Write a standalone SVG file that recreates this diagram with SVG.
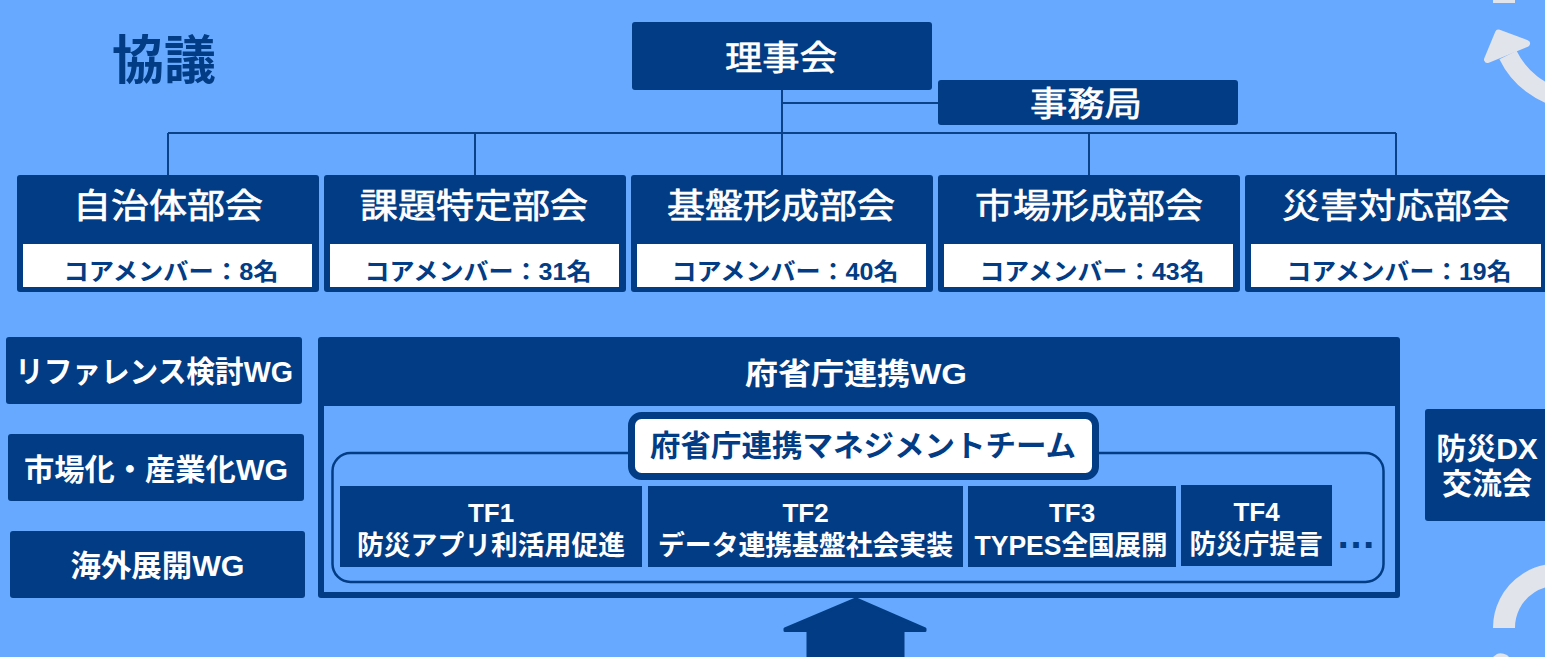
<svg xmlns="http://www.w3.org/2000/svg" width="1545" height="657" viewBox="0 0 1545 657">
<style>
.t{font-family:"Liberation Sans","Noto Sans CJK JP",sans-serif;}
.w{fill:#ffffff;}
.n{fill:#023C84;}
.b{font-weight:bold;}
.m{stroke:#ffffff;stroke-width:0.7;}
.dk{fill:#023C84;}
.conn{stroke:#0B4189;stroke-width:2;fill:none;}
.deco{fill:#E2E4EB;}
</style>
<rect x="0" y="0" width="1545" height="657" fill="#67A9FF"/>

<!-- decorative cycle arrows at right edge -->
<g id="deco">
<rect class="deco" x="1493" y="0" width="22" height="3"/>
<polygon class="deco" points="1498.5,33 1526.5,43.5 1487.5,59.5" stroke="#E2E4EB" stroke-width="7" stroke-linejoin="round"/>
<path d="M1508 55 A80 80 0 0 0 1566 99" stroke="#E2E4EB" stroke-width="19" fill="none"/>
<path d="M1504 628 A53 53 0 0 1 1580 580" stroke="#E2E4EB" stroke-width="22" fill="none"/>
<path class="deco" d="M1493 657 L1497 654 Q1501 652 1507 655 L1509 657 Z"/>
</g>

<text class="t n b" x="164" y="79" font-size="52" text-anchor="middle">協議</text>

<g id="connectors">
<path class="conn" d="M782 90 V175 M782 103 H938 M168 133 H1396 M168 133 V175 M475 133 V175 M1089 133 V175 M1396 133 V175"/>
</g>

<g id="rijikai">
<rect class="dk" x="632" y="22" width="300" height="68" rx="3"/>
<text class="t w m" x="781" y="70" font-size="34" text-anchor="middle" textLength="112" lengthAdjust="spacingAndGlyphs">理事会</text>
</g>

<g id="jimukyoku">
<rect class="dk" x="938" y="80" width="300" height="45" rx="3"/>
<text class="t w m" x="1086" y="116" font-size="34" text-anchor="middle" textLength="112" lengthAdjust="spacingAndGlyphs">事務局</text>
</g>

<g id="bukai1">
<rect class="dk" x="17" y="175" width="302" height="117" rx="3"/>
<rect fill="#fff" x="23" y="244" width="289" height="43"/>
<text class="t w m" x="168" y="218" font-size="34" text-anchor="middle" textLength="190" lengthAdjust="spacingAndGlyphs">自治体部会</text>
<text class="t n b" x="171" y="280" font-size="24" text-anchor="middle" textLength="215" lengthAdjust="spacingAndGlyphs">コアメンバー：8名</text>
</g>
<g id="bukai2">
<rect class="dk" x="324" y="175" width="302" height="117" rx="3"/>
<rect fill="#fff" x="330" y="244" width="289" height="43"/>
<text class="t w m" x="474" y="218" font-size="34" text-anchor="middle" textLength="228" lengthAdjust="spacingAndGlyphs">課題特定部会</text>
<text class="t n b" x="478" y="280" font-size="24" text-anchor="middle" textLength="227" lengthAdjust="spacingAndGlyphs">コアメンバー：31名</text>
</g>
<g id="bukai3">
<rect class="dk" x="631" y="175" width="302" height="117" rx="3"/>
<rect fill="#fff" x="637" y="244" width="289" height="43"/>
<text class="t w m" x="781" y="218" font-size="34" text-anchor="middle" textLength="228" lengthAdjust="spacingAndGlyphs">基盤形成部会</text>
<text class="t n b" x="785" y="280" font-size="24" text-anchor="middle" textLength="227" lengthAdjust="spacingAndGlyphs">コアメンバー：40名</text>
</g>
<g id="bukai4">
<rect class="dk" x="938" y="175" width="302" height="117" rx="3"/>
<rect fill="#fff" x="944" y="244" width="289" height="43"/>
<text class="t w m" x="1089" y="218" font-size="34" text-anchor="middle" textLength="228" lengthAdjust="spacingAndGlyphs">市場形成部会</text>
<text class="t n b" x="1092" y="280" font-size="24" text-anchor="middle" textLength="225" lengthAdjust="spacingAndGlyphs">コアメンバー：43名</text>
</g>
<g id="bukai5">
<rect class="dk" x="1245" y="175" width="302" height="117" rx="3"/>
<rect fill="#fff" x="1251" y="244" width="290" height="43"/>
<text class="t w m" x="1396" y="218" font-size="34" text-anchor="middle" textLength="228" lengthAdjust="spacingAndGlyphs">災害対応部会</text>
<text class="t n b" x="1399" y="280" font-size="24" text-anchor="middle" textLength="225" lengthAdjust="spacingAndGlyphs">コアメンバー：19名</text>
</g>

<g id="wg-ref">
<rect class="dk" x="6" y="337" width="296" height="67" rx="3"/>
<text class="t w b" x="154" y="382" font-size="30" text-anchor="middle" textLength="278" lengthAdjust="spacingAndGlyphs">リファレンス検討WG</text>
</g>
<g id="wg-market">
<rect class="dk" x="8" y="434" width="296" height="67" rx="3"/>
<text class="t w b" x="156" y="480" font-size="30" text-anchor="middle" textLength="264" lengthAdjust="spacingAndGlyphs">市場化・産業化WG</text>
</g>
<g id="wg-overseas">
<rect class="dk" x="10" y="531" width="295" height="67" rx="3"/>
<text class="t w b" x="157.5" y="576" font-size="30" text-anchor="middle" textLength="174" lengthAdjust="spacingAndGlyphs">海外展開WG</text>
</g>

<g id="wg-gov">
<rect class="dk" x="318" y="337" width="1082" height="261" rx="3"/>
<rect fill="#67A9FF" x="324" y="406" width="1071" height="186"/>
<text class="t w b" x="856" y="384" font-size="30" text-anchor="middle" textLength="222" lengthAdjust="spacingAndGlyphs">府省庁連携WG</text>
<rect x="332.5" y="453" width="1051" height="129" rx="18" fill="none" stroke="#023C84" stroke-width="2.5"/>
</g>

<g id="mgmt-team">
<rect x="631.5" y="415.5" width="464" height="61" rx="10" fill="#fff" stroke="#023C84" stroke-width="7"/>
<text class="t n b" x="863" y="456" font-size="30" text-anchor="middle" textLength="426" lengthAdjust="spacingAndGlyphs">府省庁連携マネジメントチーム</text>
</g>

<g id="tf1">
<rect class="dk" x="340" y="486" width="302" height="81"/>
<text class="t w b" x="491" y="521.5" font-size="26" text-anchor="middle">TF1</text>
<text class="t w b" x="491" y="555" font-size="27" text-anchor="middle" textLength="268" lengthAdjust="spacingAndGlyphs">防災アプリ利活用促進</text>
</g>
<g id="tf2">
<rect class="dk" x="648" y="486" width="315" height="81"/>
<text class="t w b" x="805.5" y="521.5" font-size="26" text-anchor="middle">TF2</text>
<text class="t w b" x="805.5" y="555" font-size="27" text-anchor="middle" textLength="295" lengthAdjust="spacingAndGlyphs">データ連携基盤社会実装</text>
</g>
<g id="tf3">
<rect class="dk" x="968" y="486" width="208" height="81"/>
<text class="t w b" x="1072" y="521.5" font-size="26" text-anchor="middle">TF3</text>
<text class="t w b" x="1071" y="555" font-size="27" text-anchor="middle" textLength="193" lengthAdjust="spacingAndGlyphs">TYPES全国展開</text>
</g>
<g id="tf4">
<rect class="dk" x="1181" y="485" width="151" height="81"/>
<text class="t w b" x="1256.5" y="520.5" font-size="26" text-anchor="middle">TF4</text>
<text class="t w b" x="1256" y="554" font-size="27" text-anchor="middle" textLength="133" lengthAdjust="spacingAndGlyphs">防災庁提言</text>
</g>
<text class="t n b" x="1356" y="548" font-size="40" text-anchor="middle">…</text>

<g id="bosai-dx">
<rect class="dk" x="1425" y="409" width="125" height="112" rx="3"/>
<text class="t w b" x="1487" y="459" font-size="30" text-anchor="middle">防災DX</text>
<text class="t w b" x="1487" y="494" font-size="30" text-anchor="middle">交流会</text>
</g>

<g id="up-arrow">
<polygon class="dk" points="856,599 925,629 925,630.5 903,630.5 903,660 808,660 808,630.5 785,630.5 785,629" stroke="#023C84" stroke-width="3" stroke-linejoin="round"/>
</g>
</svg>
